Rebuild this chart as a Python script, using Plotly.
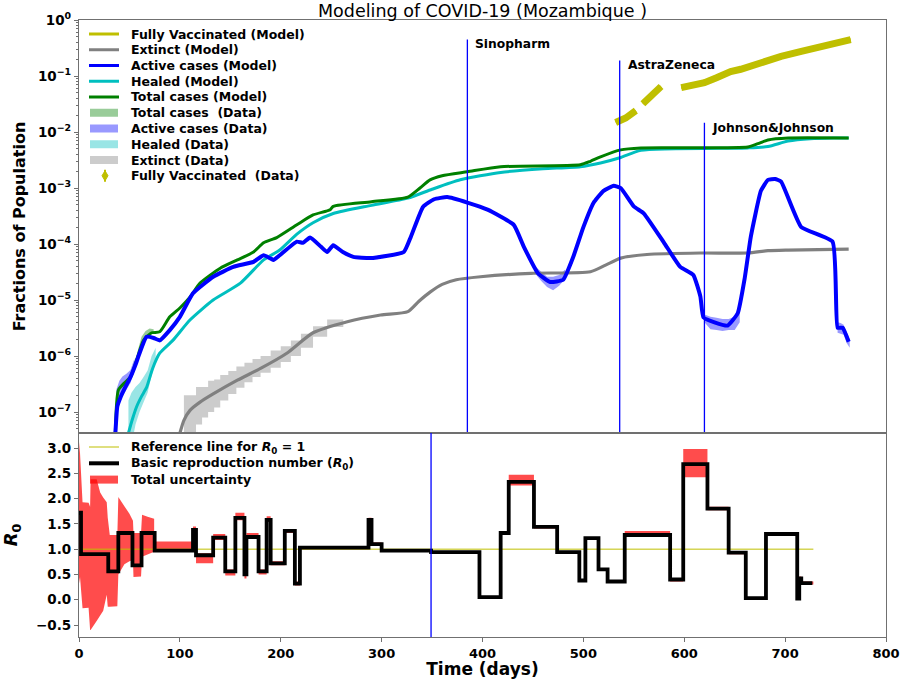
import math
import plotly.graph_objects as go

# ---------------- epidemic curves (fractions of population) ----------------
total_day = [36, 39, 45, 51, 58, 64, 72, 80, 90, 100, 110, 120, 140, 157, 173, 183, 196, 216, 232, 249,
             252, 290, 326, 338, 348, 360, 385, 418, 497, 507, 517, 537, 557, 663, 673, 683, 703, 763]
total_val = [4.2e-8, 2.45e-7, 3.3e-7, 4.2e-7, 9.5e-7, 1.9e-6, 2.6e-6, 2.7e-6, 5.0e-6, 7.2e-6,
             1.12e-5, 2.0e-5, 3.7e-5, 5.2e-5, 7.2e-5, 1.05e-4, 1.3e-4, 2.2e-4, 3.3e-4, 4.1e-4,
             4.7e-4, 5.7e-4, 6.9e-4, 1.0e-3, 1.4e-3, 1.66e-3, 1.95e-3, 2.4e-3, 2.6e-3, 3.0e-3,
             3.6e-3, 4.8e-3, 5.2e-3, 5.4e-3, 6.2e-3, 7.2e-3, 7.8e-3, 7.8e-3]

healed_day = [49, 53, 57, 62, 67, 73, 80, 93, 110, 133, 160, 183, 199, 216, 232, 252, 290, 326, 350, 378,
              418, 460, 497, 517, 537, 557, 663, 683, 703, 725, 748, 763]
healed_val = [4.2e-8, 7.5e-8, 1.23e-7, 1.9e-7, 2.75e-7, 6e-7, 1.12e-6, 1.9e-6, 4.4e-6, 1.0e-5,
              2.0e-5, 5.2e-5, 7.8e-5, 1.5e-4, 2.4e-4, 3.5e-4, 4.9e-4, 6.6e-4, 9.5e-4, 1.4e-3,
              1.9e-3, 2.2e-3, 2.4e-3, 2.8e-3, 3.5e-3, 4.7e-3, 5.2e-3, 5.5e-3, 6.9e-3, 7.6e-3,
              7.8e-3, 7.8e-3]

active_day = [36, 38, 41, 46, 51, 56, 60, 67, 74, 80, 90, 100, 113, 133, 153, 173, 183, 190, 193, 199,
              216, 222, 229, 240, 246, 252, 262, 272, 289, 322, 329, 341, 352, 365, 385, 405, 431, 441,
              455, 467, 480, 490, 500, 510, 520, 530, 537, 550, 560, 580, 596, 609, 616, 619, 630, 643,
              653, 660, 666, 676, 683, 690, 696, 716, 747, 752, 757, 763]
active_val = [4e-8, 1.26e-7, 1.8e-7, 2.8e-7, 4.2e-7, 7e-7, 1.12e-6, 2.2e-6, 2.1e-6, 1.9e-6,
              2.9e-6, 5.0e-6, 1.32e-5, 2.6e-5, 3.9e-5, 4.8e-5, 6.3e-5, 5.5e-5, 5.2e-5, 6.3e-5,
              1.1e-4, 1.05e-4, 1.3e-4, 8.9e-5, 7.2e-5, 9.5e-5, 7.1e-5, 5.9e-5, 5.6e-5, 7.2e-5,
              1.35e-4, 4.6e-4, 6.3e-4, 6.9e-4, 5.5e-4, 4.1e-4, 2.2e-4, 8.9e-5, 3.0e-5, 2.1e-5,
              2.3e-5, 5.9e-5, 2.0e-4, 5.4e-4, 8.9e-4, 1.1e-3, 1.0e-3, 4.7e-4, 3.5e-4, 1.05e-4,
              3.9e-5, 2.8e-5, 1.15e-5, 4.9e-6, 4.0e-6, 3.5e-6, 5.8e-6, 2.5e-5, 1.35e-4, 8.9e-4,
              1.4e-3, 1.45e-3, 1.3e-3, 2.0e-4, 1.1e-4, 3.2e-6, 3.2e-6, 1.8e-6]

extinct_day = [100, 104, 110, 120, 133, 157, 180, 206, 232, 266, 299, 326, 337, 348, 360, 374, 398, 448,
               507, 522, 537, 563, 616, 663, 683, 703, 763]
extinct_val = [4.2e-8, 7.1e-8, 1.07e-7, 1.5e-7, 2.1e-7, 3.7e-7, 6.0e-7, 1.12e-6, 2.6e-6, 4.1e-6,
               5.4e-6, 6.2e-6, 9.5e-6, 1.38e-5, 1.9e-5, 2.3e-5, 2.6e-5, 3.0e-5, 3.2e-5, 4.2e-5,
               5.6e-5, 6.5e-5, 6.9e-5, 6.9e-5, 7.6e-5, 7.8e-5, 8.1e-5]

vacc_day = [532, 542, 552, None, 559, 568, 577, None, 597, 610, 620, 632, 646, 656, 676, 696, 716, 730,
            745, 755, 765]
vacc_val = [1.48e-2, 1.78e-2, 2.4e-2, None, 3.2e-2, 4.7e-2, 6.5e-2, None, 6.2e-2, 6.8e-2, 7.6e-2,
            9.3e-2, 1.2e-1, 1.32e-1, 1.78e-1, 2.24e-1, 2.75e-1, 3.2e-1, 3.63e-1, 4.1e-1, 4.47e-1]

# observed-data envelopes (low / high)
act_env = [
    ([37, 40, 43, 47, 51, 55], [8e-8, 1.5e-7, 1.9e-7, 2.5e-7, 3.3e-7, 5.5e-7],
     [2.5e-7, 3.6e-7, 4.3e-7, 4.8e-7, 5.6e-7, 9e-7]),
    ([452, 458, 464, 470, 476, 482], [3.0e-5, 2.2e-5, 1.7e-5, 1.5e-5, 1.8e-5, 2.4e-5],
     [4.0e-5, 3.2e-5, 2.6e-5, 2.6e-5, 2.8e-5, 3.5e-5]),
    ([620, 626, 632, 638, 644, 650, 655], [4.0e-6, 3.0e-6, 2.9e-6, 2.8e-6, 2.9e-6, 2.9e-6, 4e-6],
     [5.5e-6, 5.0e-6, 4.8e-6, 4.6e-6, 4.6e-6, 5.0e-6, 7e-6]),
    ([752, 755, 758, 761, 764], [2.6e-6, 2.5e-6, 2.4e-6, 1.7e-6, 1.4e-6],
     [4.0e-6, 3.9e-6, 3.6e-6, 2.6e-6, 2.0e-6]),
]
healed_env = [([49, 52, 56, 60, 64, 68, 72, 76], [1e-8, 2.5e-8, 6e-8, 1.0e-7, 1.5e-7, 2.2e-7, 4.5e-7, 8e-7],
               [1.6e-7, 2.2e-7, 2.8e-7, 3.3e-7, 4.2e-7, 5.5e-7, 1.0e-6, 1.4e-6])]
total_env = [([58, 62, 66, 70, 74], [8e-7, 1.4e-6, 2.0e-6, 2.4e-6, 2.5e-6],
              [1.2e-6, 2.2e-6, 2.8e-6, 3.1e-6, 3.0e-6])]
extinct_env_day = [104, 110, 116, 122, 128, 134, 140, 148, 156, 164, 172, 180, 190, 200, 210, 220, 232, 246, 262]
extinct_env_lo = [1e-8, 1e-8, 6e-8, 8e-8, 1.0e-7, 1.2e-7, 1.6e-7, 2.1e-7, 2.7e-7, 3.4e-7, 4.2e-7, 5.0e-7,
                  6.2e-7, 7.8e-7, 1.0e-6, 1.4e-6, 2.2e-6, 3.3e-6, 4.0e-6]
extinct_env_hi = [2.0e-7, 2.0e-7, 2.8e-7, 2.8e-7, 3.6e-7, 3.8e-7, 4.6e-7, 5.4e-7, 6.5e-7, 7.6e-7, 8.8e-7,
                  1.0e-6, 1.25e-6, 1.5e-6, 1.9e-6, 2.5e-6, 3.4e-6, 4.5e-6, 4.7e-6]

# vaccine rollout markers
vaccine_name = ["Sinopharm", "AstraZeneca", "Johnson&Johnson"]
vaccine_day = [385, 536, 620]
vaccine_top = [0.45, 0.19, 0.0147]

# ---------------- basic reproduction number ----------------
r0_day = [0, 2, 29, 39, 53, 62, 75, 113, 116, 133, 145, 155, 164, 166, 178, 186, 190, 204, 214, 219,
          287, 290, 300, 349, 397, 418, 426, 451, 474, 496, 502, 515, 524, 541, 586, 599, 623, 644, 661, 681,
          712, 714, 716, 727]
r0_val = [1.72, 0.90, 0.56, 1.32, 0.68, 1.32, 0.97, 1.38, 0.88, 1.23, 0.56, 1.62, 0.50, 1.24, 0.56, 1.58,
          0.72, 1.36, 0.32, 1.03, 1.58, 1.10, 0.97, 0.94, 0.05, 1.32, 2.33, 1.44, 0.94, 0.38, 1.22, 0.60,
          0.36, 1.28, 0.40, 2.68, 1.80, 0.93, 0.03, 1.30, 0.02, 0.42, 0.33, 0.33]

early_unc_day = [0, 1, 3.5, 9.5, 11, 11.5, 17.5, 21, 24, 27.5, 28.5, 30.5, 38, 39, 45, 50, 53.5, 54,
                 61.5, 62.5, 68, 74.5]
early_unc_hi = [3.12, 2.9, 1.93, 1.92, 1.84, 2.38, 2.38, 2.12, 2.02, 1.93, 1.62, 1.28, 1.28, 2.03, 1.85,
                1.7, 1.56, 1.32, 1.32, 1.68, 1.64, 1.6]
early_unc_lo = [0.32, 0.45, -0.17, -0.16, -0.6, -0.6, -0.42, -0.32, -0.22, 0.1, -0.14, -0.14, -0.13, 0.5,
                0.7, 0.76, 0.78, 0.45, 0.46, 0.85, 0.9, 0.95]

unc_day = [74.5, 113, 116, 133, 145, 155, 164, 166, 178, 186, 190, 204, 214, 219, 287, 290, 300, 349, 397,
           418, 426, 451, 474, 496, 502, 515, 524, 541, 586, 599, 623, 644, 661, 681, 712, 714, 716, 728]
unc_lo = [0.95, 1.33, 0.72, 1.18, 0.48, 1.57, 0.42, 1.20, 0.50, 1.54, 0.68, 1.32, 0.28, 1.00, 1.54, 1.07,
          0.95, 0.92, 0.03, 1.28, 2.26, 1.41, 0.91, 0.35, 1.18, 0.57, 0.33, 1.26, 0.36, 2.42, 1.77, 0.90,
          0.00, 1.27, 0.00, 0.38, 0.30, 0.30]
unc_hi = [1.15, 1.45, 0.92, 1.30, 0.60, 1.72, 0.54, 1.32, 0.60, 1.65, 0.76, 1.40, 0.36, 1.06, 1.62, 1.13,
          0.99, 0.96, 0.07, 1.36, 2.47, 1.47, 0.96, 0.41, 1.24, 0.62, 0.38, 1.36, 0.42, 2.98, 1.84, 0.96,
          0.05, 1.34, 0.05, 0.46, 0.36, 0.36]

ref_day = [0, 728]
ref_val = [1.0, 1.0]
r0_event_day = 349

# ---------------- styling ----------------
FONT = "DejaVu Sans"
C_GREEN, C_CYAN, C_BLUE, C_GRAY, C_YEL = "#008000", "#00bfbf", "#0000ff", "#808080", "#bfbf00"
AXIS_C = "#707070"
ML, MR, MT, MB, W, H = 79, 17, 20, 42, 903, 679
PW, PH = W - ML - MR, H - MT - MB
SPLIT = (H - MB - 433) / PH  # boundary between the two panels, in paper units


def px_x(p):
    return (p - ML) / PW


def px_y(p):
    return (H - MB - p) / PH


fig = go.Figure()


def add_band(days, lo, hi, color, shape="linear", xa="x", ya="y"):
    fig.add_trace(go.Scatter(x=days, y=lo, mode="lines", line=dict(width=0, shape=shape),
                             xaxis=xa, yaxis=ya, showlegend=False, hoverinfo="skip"))
    fig.add_trace(go.Scatter(x=days, y=hi, mode="lines", line=dict(width=0, shape=shape),
                             fill="tonexty", fillcolor=color, xaxis=xa, yaxis=ya,
                             showlegend=False, hoverinfo="skip"))


# data envelopes
for d, lo, hi in total_env:
    add_band(d, lo, hi, "rgba(0,128,0,0.4)")
for d, lo, hi in act_env:
    add_band(d, lo, hi, "rgba(0,0,255,0.4)")
for d, lo, hi in healed_env:
    add_band(d, lo, hi, "rgba(0,191,191,0.4)")
add_band(extinct_env_day, extinct_env_lo, extinct_env_hi, "rgba(128,128,128,0.4)", shape="hv")

# model curves
smooth = dict(shape="spline", smoothing=0.6)
fig.add_trace(go.Scatter(x=extinct_day, y=extinct_val, mode="lines",
                         line=dict(color=C_GRAY, width=3.2, **smooth),
                         name="Extinct (Model)", showlegend=False))
fig.add_trace(go.Scatter(x=healed_day, y=healed_val, mode="lines",
                         line=dict(color=C_CYAN, width=3, **smooth),
                         name="Healed (Model)", showlegend=False))
fig.add_trace(go.Scatter(x=total_day, y=total_val, mode="lines",
                         line=dict(color=C_GREEN, width=3, **smooth),
                         name="Total cases (Model)", showlegend=False))
fig.add_trace(go.Scatter(x=active_day, y=active_val, mode="lines",
                         line=dict(color=C_BLUE, width=4, shape="spline", smoothing=0.4),
                         name="Active cases (Model)", showlegend=False))
fig.add_trace(go.Scatter(x=vacc_day, y=vacc_val, mode="lines", line=dict(color=C_YEL, width=7),
                         connectgaps=False, name="Fully Vaccinated  (Data)", showlegend=False))
fig.add_trace(go.Scatter(x=vacc_day, y=vacc_val, mode="lines", line=dict(color=C_YEL, width=3),
                         connectgaps=False, name="Fully Vaccinated (Model)", showlegend=False))

# vaccine introduction lines
for name, d, top in zip(vaccine_name, vaccine_day, vaccine_top):
    fig.add_trace(go.Scatter(x=[d, d], y=[1e-9, top], mode="lines", line=dict(color=C_BLUE, width=1.3),
                             showlegend=False, hoverinfo="skip"))
    fig.add_annotation(x=d, y=math.log10(top), xref="x", yref="y", text=name, showarrow=False,
                       xanchor="left", yanchor="middle", xshift=6, yshift=-5,
                       font=dict(family=FONT, size=12.3, color="black", weight="bold"))

# R0 panel
add_band(early_unc_day, early_unc_lo, early_unc_hi, "rgba(255,0,0,0.7)", xa="x2", ya="y2")
add_band(unc_day, unc_lo, unc_hi, "rgba(255,0,0,0.7)", shape="hv", xa="x2", ya="y2")
fig.add_trace(go.Scatter(x=ref_day, y=ref_val, mode="lines", line=dict(color=C_YEL, width=1),
                         xaxis="x2", yaxis="y2", showlegend=False))
fig.add_trace(go.Scatter(x=r0_day, y=r0_val, mode="lines", line=dict(color="black", width=3.8, shape="hv"),
                         xaxis="x2", yaxis="y2", showlegend=False))
fig.add_trace(go.Scatter(x=[r0_event_day, r0_event_day], y=[-2, 5], mode="lines",
                         line=dict(color=C_BLUE, width=1.3), xaxis="x2", yaxis="y2",
                         showlegend=False, hoverinfo="skip"))

# ---------------- legends ----------------
shapes = []
annotations = []
LEG_FONT = dict(family=FONT, size=12.5, color="black", weight="bold")

line_w = {"Basic reproduction number (<i>R</i><sub>0</sub>)": 4,
          "Reference line for <i>R</i><sub>0</sub> = 1": 1}


def legend_rows(entries, y0, dy):
    for i, (label, kind, color) in enumerate(entries):
        py = y0 + i * dy
        if kind == "line":
            shapes.append(dict(type="line", xref="paper", yref="paper", x0=px_x(89), x1=px_x(119),
                               y0=px_y(py), y1=px_y(py), line=dict(color=color, width=line_w.get(label, 3))))
        elif kind == "rect":
            shapes.append(dict(type="rect", xref="paper", yref="paper", x0=px_x(90), x1=px_x(118),
                               y0=px_y(py + 4), y1=px_y(py - 4), fillcolor=color, line=dict(width=0)))
        else:
            shapes.append(dict(type="line", xref="paper", yref="paper", x0=px_x(105), x1=px_x(105),
                               y0=px_y(py + 6), y1=px_y(py - 6), line=dict(color=color, width=2)))
            path = "M {a},{b} L {c},{d} L {a},{e} L {f},{d} Z".format(
                a=px_x(105), b=px_y(py - 5), c=px_x(108), d=px_y(py), e=px_y(py + 5), f=px_x(102))
            shapes.append(dict(type="path", xref="paper", yref="paper", path=path, fillcolor=color,
                               line=dict(color=color, width=1)))
        annotations.append(dict(x=px_x(129), y=px_y(py), xref="paper", yref="paper", text=label,
                                showarrow=False, xanchor="left", yanchor="middle", font=LEG_FONT))


top_entries = [
    ("Fully Vaccinated (Model)", "line", C_YEL),
    ("Extinct (Model)", "line", C_GRAY),
    ("Active cases (Model)", "line", C_BLUE),
    ("Healed (Model)", "line", C_CYAN),
    ("Total cases (Model)", "line", C_GREEN),
    ("Total cases\u00a0 (Data)", "rect", "rgba(0,128,0,0.4)"),
    ("Active cases (Data)", "rect", "rgba(0,0,255,0.4)"),
    ("Healed (Data)", "rect", "rgba(0,191,191,0.4)"),
    ("Extinct (Data)", "rect", "rgba(128,128,128,0.4)"),
    ("Fully Vaccinated\u00a0 (Data)", "marker", C_YEL),
]
bottom_entries = [
    ("Reference line for <i>R</i><sub>0</sub> = 1", "line", C_YEL),
    ("Basic reproduction number (<i>R</i><sub>0</sub>)", "line", "black"),
    ("Total uncertainty", "rect", "rgba(255,0,0,0.7)"),
]
legend_rows(top_entries, 34, 15.75)
legend_rows(bottom_entries, 447, 16.3)

# ---------------- axes ----------------
tick_font = dict(family=FONT, size=13.5, color="black", weight="bold")
log_vals = [10.0 ** e for e in range(-7, 1)]
log_text = ["10<sup>\u2212%d</sup>" % (-e) if e < 0 else "10<sup>0</sup>" for e in range(-7, 1)]
minor_vals = [m * 10.0 ** e for e in range(-8, 0) for m in range(2, 10)]
r0_ticks = [-0.5, 0.0, 0.5, 1.0, 1.5, 2.0, 2.5, 3.0]
r0_text = ["\u22120.5", "0.0", "0.5", "1.0", "1.5", "2.0", "2.5", "3.0"]

common_line = dict(showline=True, mirror=True, linecolor=AXIS_C, linewidth=1.2, showgrid=False,
                   zeroline=False, automargin=False)

fig.update_layout(
    template="none",
    width=W, height=H,
    margin=dict(l=ML, r=MR, t=MT, b=MB, autoexpand=False),
    paper_bgcolor="white", plot_bgcolor="white",
    showlegend=False,
    title=dict(text="Modeling of COVID-19 (Mozambique )", x=0.5, xref="paper", xanchor="center",
               y=1 - 11 / H, yref="container", yanchor="middle",
               font=dict(family=FONT, size=17.5, color="black")),
    xaxis=dict(domain=[0, 1], range=[0, 800], anchor="y", showticklabels=False, ticks="", **common_line),
    yaxis=dict(domain=[SPLIT, 1], type="log", range=[-7.375, 0], anchor="x",
               tickmode="array", tickvals=log_vals, ticktext=log_text, ticks="outside", ticklen=4,
               tickcolor=AXIS_C, tickfont=tick_font,
               minor=dict(tickmode="array", tickvals=minor_vals, ticks="outside", ticklen=2,
                          tickcolor=AXIS_C),
               title=dict(text="Fractions of Population", standoff=8,
                          font=dict(family=FONT, size=16, color="black", weight="bold")),
               **common_line),
    xaxis2=dict(domain=[0, 1], range=[0, 800], anchor="y2", tickmode="array",
                tickvals=[0, 100, 200, 300, 400, 500, 600, 700, 800], ticks="outside", ticklen=4,
                tickcolor=AXIS_C, tickfont=dict(family=FONT, size=13, color="black", weight="bold"),
                title=dict(text="Time (days)", standoff=7,
                           font=dict(family=FONT, size=17, color="black", weight="bold")),
                **common_line),
    yaxis2=dict(domain=[0, SPLIT], range=[-0.737, 3.297], anchor="x2", tickmode="array",
                tickvals=r0_ticks, ticktext=r0_text, ticks="outside", ticklen=4, tickcolor=AXIS_C,
                tickfont=tick_font,
                title=dict(text="<i>R</i><sub>0</sub>", standoff=14,
                           font=dict(family=FONT, size=18, color="black", weight="bold")),
                **common_line),
    shapes=shapes,
    annotations=list(fig.layout.annotations) + annotations,
)

fig.write_html("out.html")
